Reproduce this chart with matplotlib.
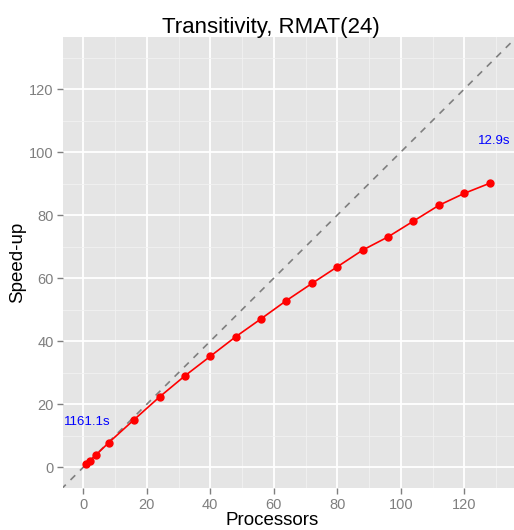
import matplotlib
matplotlib.use("Agg")
import matplotlib.pyplot as plt
import numpy as np

# data
procs = [1, 2, 4, 8, 16, 24, 32, 40, 48, 56, 64, 72, 80, 88, 96, 104, 112, 120, 128]
speedup = [1.0, 1.95, 3.9, 7.8, 15.1, 22.3, 29.0, 35.2, 41.4, 47.1, 52.9, 58.3, 63.6,
           68.9, 73.1, 78.1, 83.1, 86.9, 90.1]
time_labels = ["1161.1s", "12.9s"]
label_x = [1.2, 129.5]
label_y = [14.5, 103.5]

plt.rcParams['font.family'] = ['Liberation Sans', 'DejaVu Sans']

fig = plt.figure(figsize=(5.14, 5.30), dpi=100)
ax = fig.add_axes([0.1232, 0.0792, 0.877, 0.8515])
ax.set_facecolor('#E5E5E5')
for s in ax.spines.values():
    s.set_visible(False)

ax.set_xticks(np.arange(0, 121, 20))
ax.set_yticks(np.arange(0, 121, 20))
ax.set_xticks(np.arange(10, 131, 20), minor=True)
ax.set_yticks(np.arange(-10, 131, 20), minor=True)
# limits after the ticks, otherwise the minor ticks widen them
ax.set_xlim(-6.3, 135.7)
ax.set_ylim(-6.6, 136.6)
ax.grid(which='major', color='white', linewidth=1.3)
ax.grid(which='minor', color='#F2F2F2', linewidth=0.6)
ax.set_axisbelow(True)
ax.tick_params(which='major', colors='#7F7F7F', labelsize=10.5, length=4, width=1.0, pad=3)
ax.tick_params(which='minor', length=0)

# ideal speed-up
ref = np.array([-10, 140])
ax.plot(ref, ref, color='#7F7F7F', linestyle=(0, (4, 4)), linewidth=1.2)

ax.plot(procs, speedup, color='red', linewidth=1.2, marker='o', markersize=5, zorder=3)

for lab, lx, ly in zip(time_labels, label_x, label_y):
    ax.text(lx, ly, lab, color='blue', fontsize=9.5, ha='center', va='center')

fig.text(0.527, 1 - 33 / 530, "Transitivity, RMAT(24)", fontsize=16,
         ha='center', va='baseline')
ax.set_xlabel("Processors", fontsize=13.5)
ax.xaxis.set_label_coords(0.463, -0.054, transform=ax.transAxes)
ax.set_ylabel("Speed-up", fontsize=13.5, labelpad=2)

plt.savefig("out.png", dpi=100)
